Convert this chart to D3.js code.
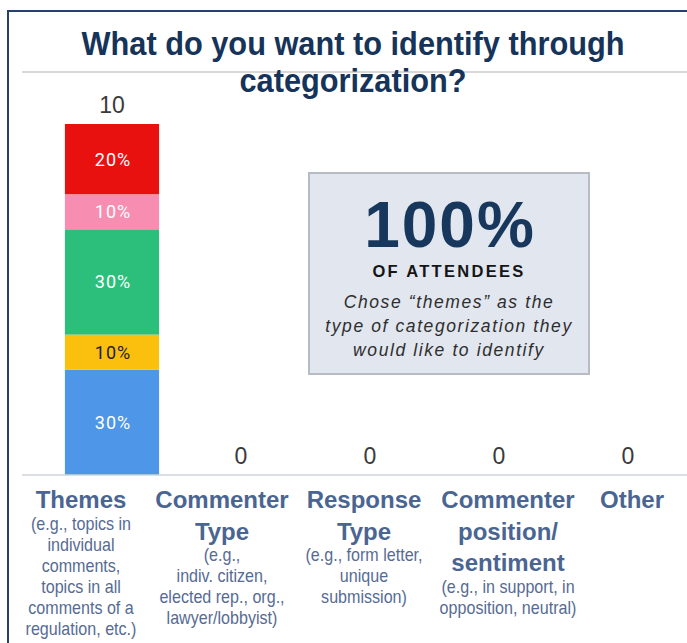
<!DOCTYPE html>
<html>
<head>
<meta charset="utf-8">
<script src="https://cdn.jsdelivr.net/npm/d3@7"></script>
<style>
  body { margin: 0; background: #fff; }
  svg { display: block; }
</style>
</head>
<body>
<div id="chart"></div>
<script>
// DATA
const categories = ['Themes', 'Commenter Type', 'Response Type', 'Commenter position/sentiment', 'Other'];
const totals = [10, 0, 0, 0, 0];
// stacked pieces of the Themes bar, bottom -> top
const segNames = ['blue', 'yellow', 'green', 'pink', 'red'];
const segValues = [3, 1, 3, 1, 2];
const segLabels = ['30%', '10%', '30%', '10%', '20%'];
const segColors = ['#4e96e8', '#fbbf0e', '#2bbf7b', '#f78eb1', '#e8110f'];
// label lines under each category
const catTitleLines = [['Themes'], ['Commenter', 'Type'], ['Response', 'Type'], ['Commenter', 'position/', 'sentiment'], ['Other']];
const catNoteLines = [
  ['(e.g., topics in', 'individual', 'comments,', 'topics in all', 'comments of a', 'regulation, etc.)'],
  ['(e.g.,', 'indiv.  citizen,', 'elected rep., org.,', 'lawyer/lobbyist)'],
  ['(e.g., form letter,', 'unique', 'submission)'],
  ['(e.g., in support, in', 'opposition, neutral)'],
  []
];
const titleLines = ['What do you want to identify through', 'categorization?'];
const calloutBig = '100%';
const calloutSub = 'OF ATTENDEES';
const calloutText = ['Chose \u201cthemes\u201d as the', 'type of categorization they', 'would like to identify'];

document.addEventListener('DOMContentLoaded', function(){
  drawChart();
});

function drawChart(){
  const W = 687, H = 643;
  const svg = d3.select('#chart').append('svg')
                .attr('width', W)
                .attr('height', H);

  // frame (slide edge)
  svg.append('path')
     .attr('d', `M8,${H} V11 H${W}`)
     .attr('fill', 'none')
     .attr('stroke', '#25406a')
     .attr('stroke-width', 2);

  // top rule of chart area
  svg.append('line')
     .attr('x1', 22).attr('x2', W)
     .attr('y1', 72).attr('y2', 72)
     .attr('stroke', '#cbcbcb').attr('stroke-width', 1.5);

  // scales
  const x = d3.scaleBand()
              .domain(categories)
              .range([47.5, 692.5])
              .paddingInner(0.27)
              .paddingOuter(0.135);
  const y = d3.scaleLinear()
              .domain([0, 10])
              .range([475, 124]);
  // text labels under the chart sit in their own slide text boxes
  const xl = d3.scaleOrdinal()
               .domain(categories)
               .range([81, 222, 364, 508, 632]);

  // stack the segments
  let acc = 0;
  const segs = segValues.map((v, i) => {
    const s = {name: segNames[i], y0: acc, y1: acc + v, label: segLabels[i], color: segColors[i]};
    acc += v;
    return s;
  });

  const bar = svg.append('g').attr('class', 'bar');
  bar.selectAll('rect')
     .data(segs).enter()
     .append('rect')
       .attr('x', x(categories[0]))
       .attr('width', x.bandwidth())
       .attr('y', d => y(d.y1))
       .attr('height', d => y(d.y0) - y(d.y1))
       .attr('fill', d => d.color);
  bar.selectAll('text')
     .data(segs).enter()
     .append('text')
       .attr('x', x(categories[0]) + x.bandwidth() / 2 + 1)
       .attr('y', d => (y(d.y0) + y(d.y1)) / 2 + 6.5)
       .attr('text-anchor', 'middle')
       .style('font-family', 'Roboto, sans-serif')
       .style('font-size', '18px')
       .style('letter-spacing', '1px')
       .attr('fill', d => d.name === 'yellow' ? '#222' : '#fff')
       .text(d => d.label);

  // baseline
  svg.append('line')
     .attr('x1', 22).attr('x2', W)
     .attr('y1', y(0)).attr('y2', y(0))
     .attr('stroke', '#cfd3da').attr('stroke-width', 1.5);

  // totals above each bar
  svg.append('g').selectAll('text')
     .data(categories).enter()
     .append('text')
       .attr('x', d => x(d) + x.bandwidth() / 2)
       .attr('y', (d, i) => y(totals[i]) - 11)
       .attr('text-anchor', 'middle')
       .style('font-family', '"Liberation Sans", Arial, sans-serif')
       .style('font-size', '23px')
       .attr('fill', '#3a3a3a')
       .text((d, i) => totals[i]);

  // category labels
  const cat = svg.append('g').selectAll('g')
                 .data(categories).enter()
                 .append('g')
                 .attr('transform', d => `translate(${xl(d)},0)`);
  cat.each(function(d, i){
    const g = d3.select(this);
    const tl = catTitleLines[i];
    tl.forEach((t, j) => {
      g.append('text')
       .attr('y', 508 + j * 31.5)
       .attr('text-anchor', 'middle')
       .style('font-family', '"Liberation Sans", Arial, sans-serif')
       .style('font-weight', 'bold')
       .style('font-size', '24px')
       .attr('fill', '#4a6592')
       .text(t);
    });
    const start = 508 + (tl.length - 1) * 31.5 + 22;
    // narrow look: squeeze the regular face horizontally
    const notes = g.append('g').attr('transform', 'scale(0.92,1)');
    catNoteLines[i].forEach((t, j) => {
      notes.append('text')
       .attr('y', start + j * 21)
       .attr('text-anchor', 'middle')
       .style('font-family', '"Liberation Sans", Arial, sans-serif')
       .style('font-size', '17.5px')
       .attr('fill', '#566b93')
       .text(t);
    });
  });

  // callout box
  const box = {x: 309, y: 173, w: 280, h: 201};
  const cb = svg.append('g');
  cb.append('rect')
    .attr('x', box.x).attr('y', box.y)
    .attr('width', box.w).attr('height', box.h)
    .attr('fill', '#e1e6ef')
    .attr('stroke', '#b7bbc3').attr('stroke-width', 2);
  const cx = box.x + box.w / 2;
  cb.append('text')
    .attr('x', cx + 1).attr('y', 247)
    .attr('text-anchor', 'middle')
    .style('font-family', '"Liberation Sans", Arial, sans-serif')
    .style('font-weight', 'bold')
    .style('font-size', '64px')
    .style('letter-spacing', '2px')
    .attr('fill', '#17375c')
    .text(calloutBig);
  cb.append('text')
    .attr('x', cx).attr('y', 277)
    .attr('text-anchor', 'middle')
    .style('font-family', '"Liberation Sans", Arial, sans-serif')
    .style('font-weight', 'bold')
    .style('font-size', '16.5px')
    .style('letter-spacing', '2.3px')
    .attr('fill', '#151515')
    .text(calloutSub);
  cb.selectAll('text.note')
    .data(calloutText).enter()
    .append('text')
      .attr('class', 'note')
      .attr('x', cx).attr('y', (d, i) => 308 + i * 24)
      .attr('text-anchor', 'middle')
      .style('font-family', '"Liberation Sans", Arial, sans-serif')
      .style('font-style', 'italic')
      .style('font-size', '17.5px')
      .style('letter-spacing', '1.6px')
      .attr('fill', '#2e2e2e')
      .text(d => d);

  // title
  const tLen = [543, 227];
  svg.append('g').selectAll('text')
     .data(titleLines).enter()
     .append('text')
       .attr('x', 353)
       .attr('y', (d, i) => 55 + i * 37)
       .attr('text-anchor', 'middle')
       .attr('textLength', (d, i) => tLen[i])
       .attr('lengthAdjust', 'spacingAndGlyphs')
       .style('font-family', '"Liberation Sans", Arial, sans-serif')
       .style('font-weight', 'bold')
       .style('font-size', '33px')
       .attr('fill', '#16335a')
       .text(d => d);
}
</script>
</body>
</html>
